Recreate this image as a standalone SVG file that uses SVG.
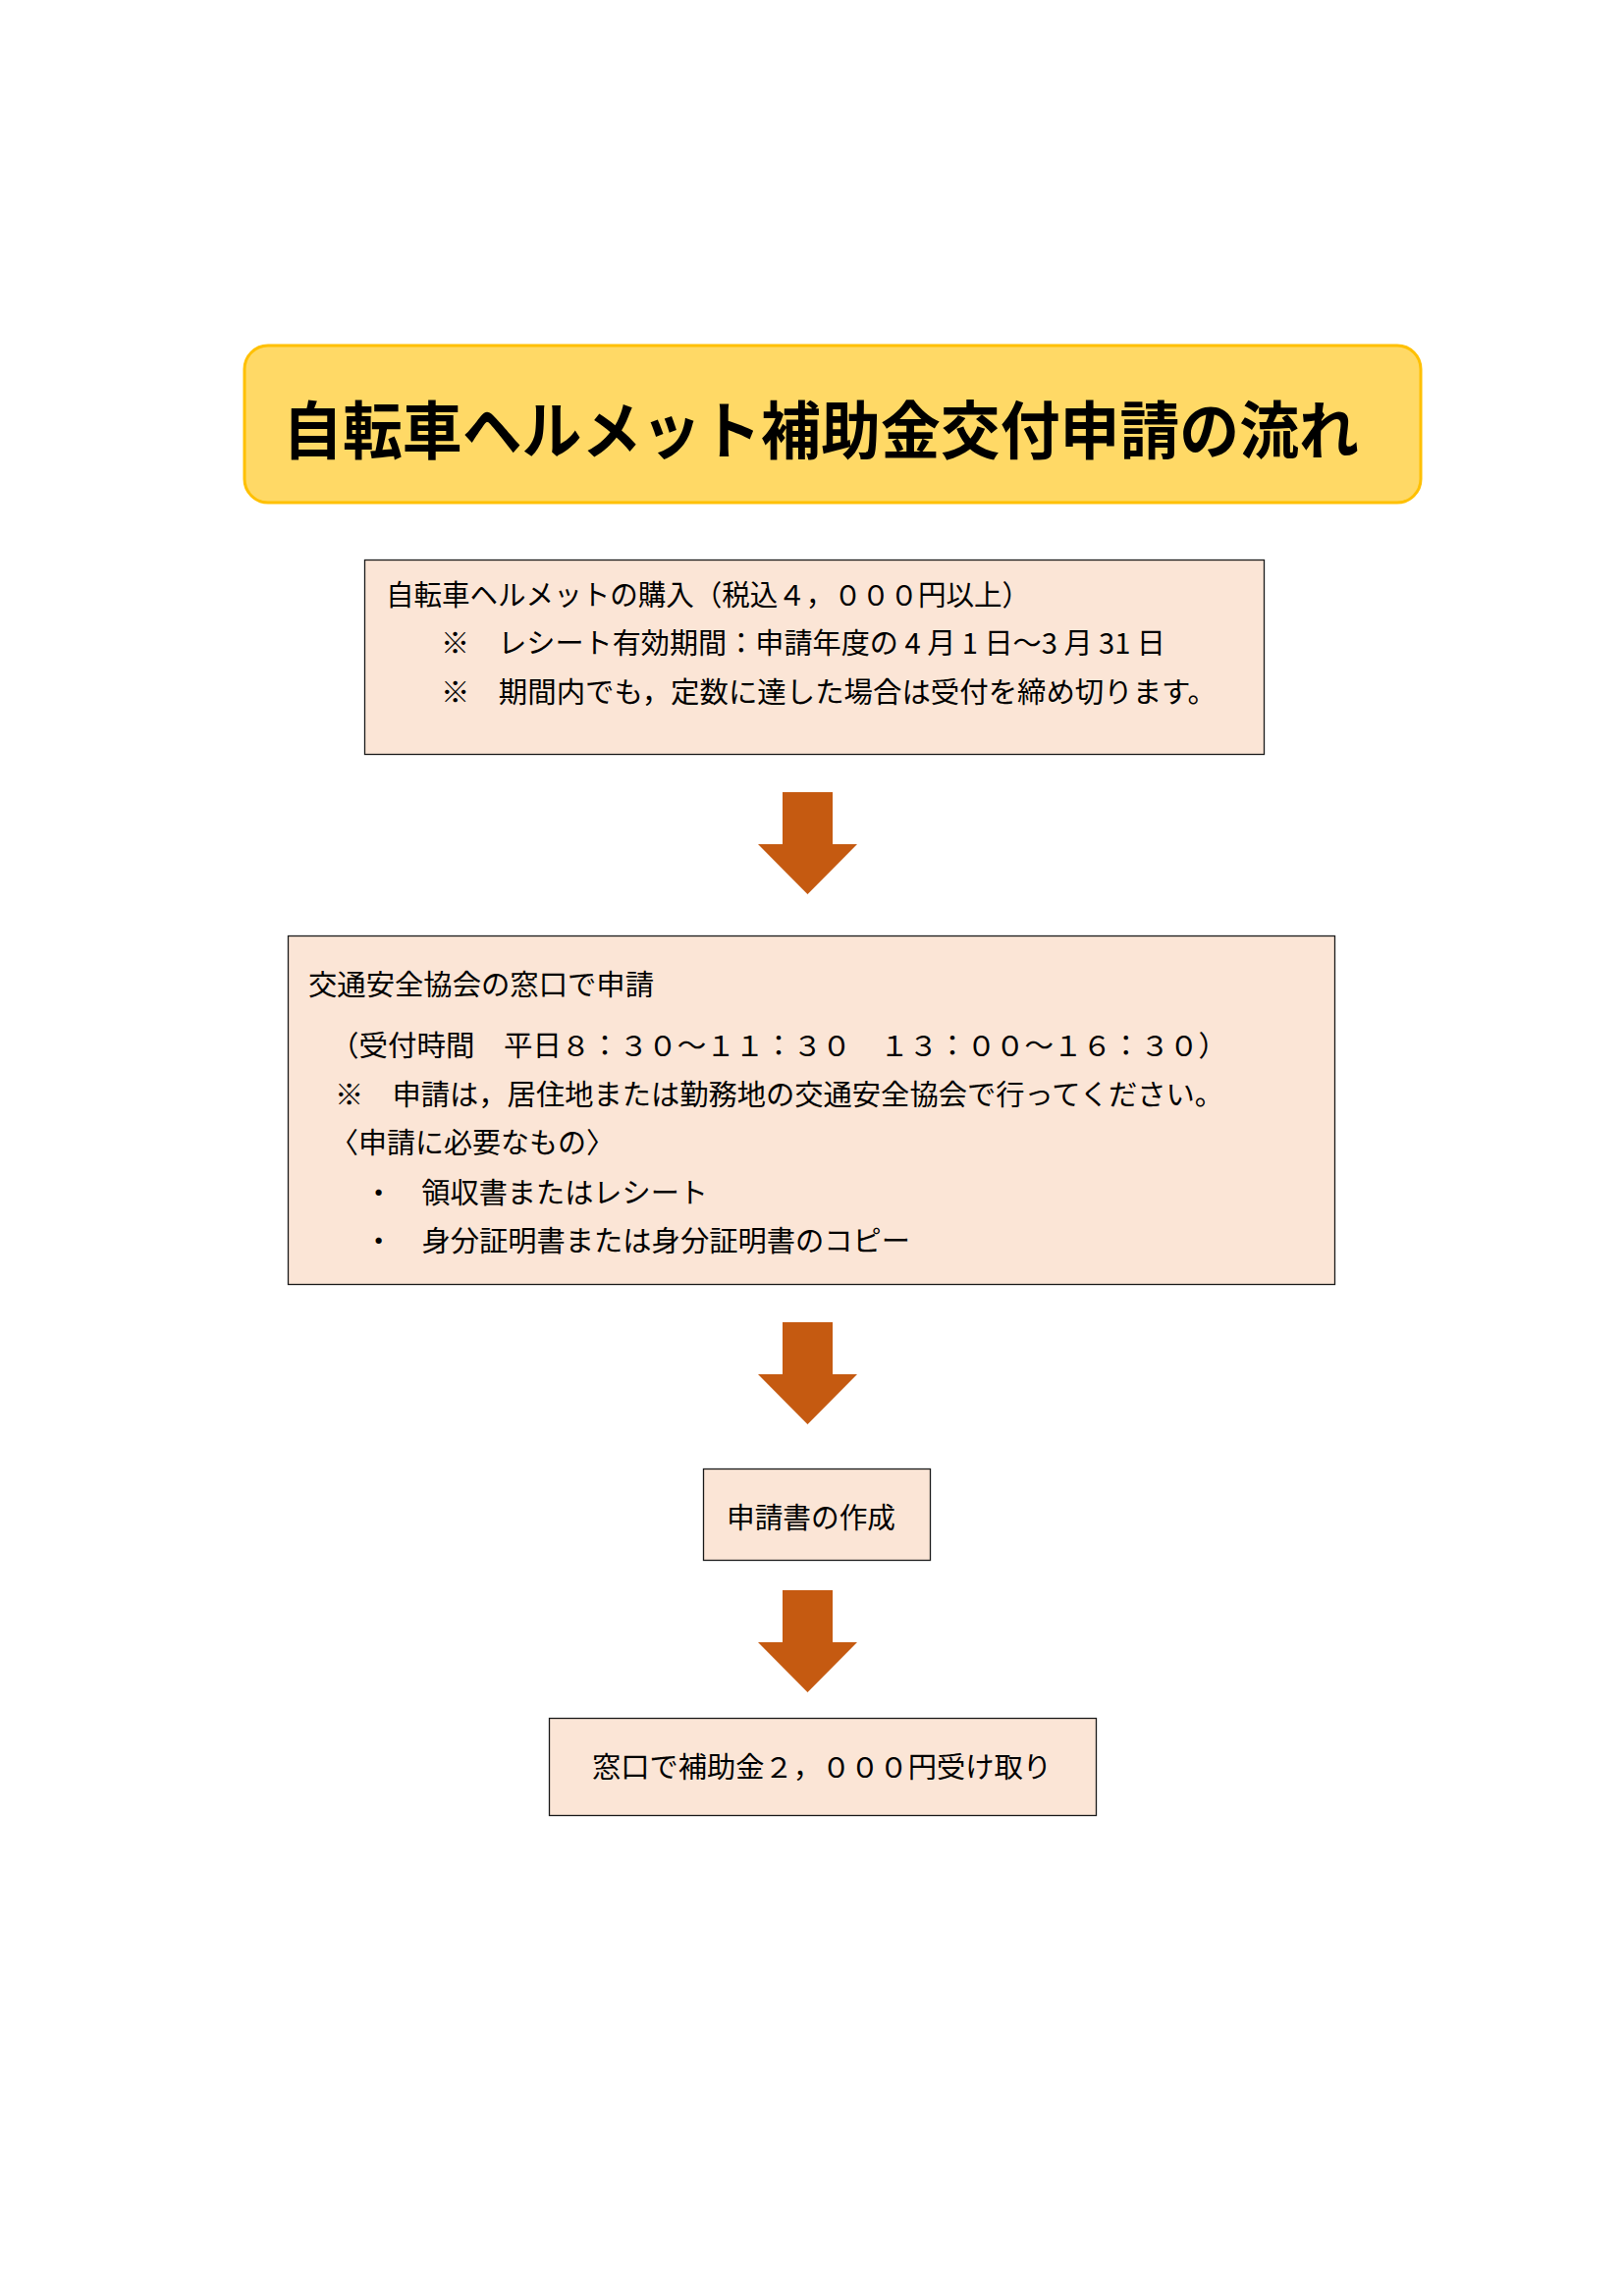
<svg xmlns="http://www.w3.org/2000/svg" width="1654" height="2339" viewBox="0 0 1654 2339">
<style>
.t{font-family:"Noto Sans CJK JP","Noto Sans CJK SC",sans-serif;font-size:29px;fill:#000}
.title{font-family:"Noto Sans CJK JP","Noto Sans CJK SC",sans-serif;font-size:64px;font-weight:bold;fill:#000}
.box{fill:#FBE5D6;stroke:#1a1a1a;stroke-width:1.3}
.arrow{fill:#C55A11}
</style>
<defs>
<path id="arr" d="M797,0 H848 V53 H873 L822.5,104 L772,53 H797 Z"/>
</defs>
<rect width="1654" height="2339" fill="#fff"/>
<g id="title">
<rect x="249" y="352" width="1198" height="160" rx="24" ry="24" fill="#FFD966" stroke="#FFC000" stroke-width="3"/>
<text class="title" x="288" y="462" textLength="1096" lengthAdjust="spacingAndGlyphs">自転車ヘルメット補助金交付申請の流れ</text>
</g>
<g id="node1">
<rect class="box" x="371.5" y="570.5" width="916" height="198"/>
<text class="t" x="393" y="617" textLength="656" lengthAdjust="spacingAndGlyphs">自転車ヘルメットの購入（税込４，０００円以上）</text>
<text class="t" x="449" y="666" textLength="738" lengthAdjust="spacingAndGlyphs">※　レシート有効期間：申請年度の 4 月 1 日～3 月 31 日</text>
<text class="t" x="449" y="716" textLength="790" lengthAdjust="spacingAndGlyphs">※　期間内でも，定数に達した場合は受付を締め切ります。</text>
</g>
<g id="node2">
<rect class="box" x="293.5" y="953.5" width="1066" height="355"/>
<text class="t" x="314" y="1014" textLength="352" lengthAdjust="spacingAndGlyphs">交通安全協会の窓口で申請</text>
<text class="t" x="336" y="1076" textLength="914" lengthAdjust="spacingAndGlyphs">（受付時間　平日８：３０～１１：３０　１３：００～１６：３０）</text>
<text class="t" x="341" y="1126" textLength="905" lengthAdjust="spacingAndGlyphs">※　申請は，居住地または勤務地の交通安全協会で行ってください。</text>
<text class="t" x="336" y="1175" textLength="290" lengthAdjust="spacingAndGlyphs">〈申請に必要なもの〉</text>
<text class="t" x="371" y="1226" textLength="350" lengthAdjust="spacingAndGlyphs">・　領収書またはレシート</text>
<text class="t" x="371" y="1275" textLength="556" lengthAdjust="spacingAndGlyphs">・　身分証明書または身分証明書のコピー</text>
</g>
<g id="node3">
<rect class="box" x="716.5" y="1496.5" width="231" height="93"/>
<text class="t" x="740" y="1557" textLength="172" lengthAdjust="spacingAndGlyphs">申請書の作成</text>
</g>
<g id="node4">
<rect class="box" x="559.5" y="1750.5" width="557" height="99"/>
<text class="t" x="603" y="1811" textLength="468" lengthAdjust="spacingAndGlyphs">窓口で補助金２，０００円受け取り</text>
</g>
<g id="connectors">
<use class="arrow" href="#arr" transform="translate(0,807)"/>
<use class="arrow" href="#arr" transform="translate(0,1347)"/>
<use class="arrow" href="#arr" transform="translate(0,1620)"/>
</g>
</svg>
